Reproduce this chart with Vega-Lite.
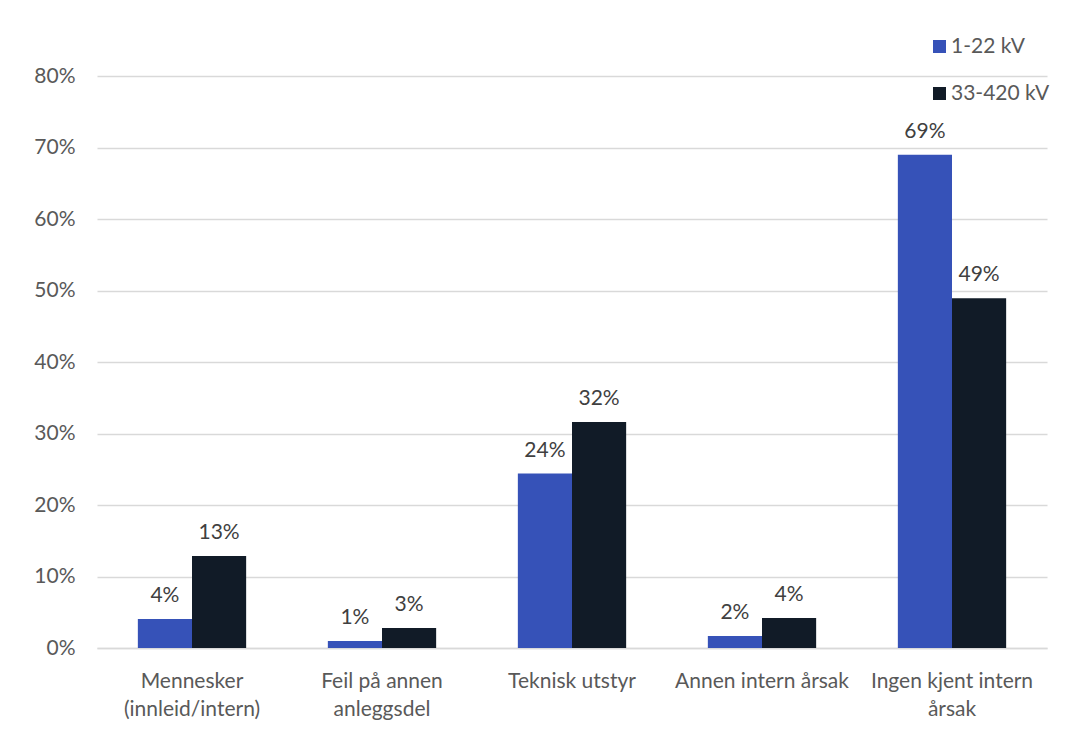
{
  "$schema": "https://vega.github.io/schema/vega-lite/v6.json",
  "width": 950,
  "height": 572,
  "autosize": {"type": "none"},
  "padding": {"left": 97, "top": 76, "right": 18, "bottom": 85},
  "background": "white",
  "config": {
    "font": "Lato",
    "view": {"stroke": null},
    "axis": {"labelFont": "Lato", "labelColor": "#595959", "labelFontSize": 21}
  },
  "data": {
    "values": [
      {"kategori": "Mennesker|(innleid/intern)", "order": 1, "spenning": "1-22 kV", "andel": 0.0406},
      {"kategori": "Mennesker|(innleid/intern)", "order": 1, "spenning": "33-420 kV", "andel": 0.1287},
      {"kategori": "Feil på annen|anleggsdel", "order": 2, "spenning": "1-22 kV", "andel": 0.0098},
      {"kategori": "Feil på annen|anleggsdel", "order": 2, "spenning": "33-420 kV", "andel": 0.028},
      {"kategori": "Teknisk utstyr", "order": 3, "spenning": "1-22 kV", "andel": 0.244},
      {"kategori": "Teknisk utstyr", "order": 3, "spenning": "33-420 kV", "andel": 0.316},
      {"kategori": "Annen intern årsak", "order": 4, "spenning": "1-22 kV", "andel": 0.0168},
      {"kategori": "Annen intern årsak", "order": 4, "spenning": "33-420 kV", "andel": 0.042},
      {"kategori": "Ingen kjent intern|årsak", "order": 5, "spenning": "1-22 kV", "andel": 0.69},
      {"kategori": "Ingen kjent intern|årsak", "order": 5, "spenning": "33-420 kV", "andel": 0.489}
    ]
  },
  "encoding": {
    "x": {
      "field": "kategori",
      "type": "nominal",
      "sort": {"field": "order"},
      "scale": {"paddingInner": 0.43, "paddingOuter": 0.215},
      "axis": {
        "title": null,
        "labelAngle": 0,
        "labelExpr": "split(datum.label, '|')",
        "labelLineHeight": 28,
        "labelPadding": 33,
        "labelBaseline": "middle",
        "ticks": false,
        "domainColor": "#d9d9d9",
        "domainWidth": 1.5
      }
    },
    "xOffset": {"field": "spenning", "type": "nominal", "scale": {"paddingInner": 0, "paddingOuter": 0}},
    "y": {
      "field": "andel",
      "type": "quantitative",
      "scale": {"domain": [0, 0.8], "nice": false},
      "axis": {
        "title": null,
        "format": ".0%",
        "values": [0, 0.1, 0.2, 0.3, 0.4, 0.5, 0.6, 0.7, 0.8],
        "domain": false,
        "ticks": false,
        "labelPadding": 22,
        "gridColor": "#d9d9d9",
        "gridWidth": 1.5
      }
    }
  },
  "layer": [
    {
      "mark": {"type": "bar"},
      "encoding": {
        "color": {
          "field": "spenning",
          "type": "nominal",
          "scale": {"domain": ["1-22 kV", "33-420 kV"], "range": ["#3652B8", "#111B27"]},
          "legend": {
            "title": null,
            "orient": "none",
            "legendX": 832,
            "legendY": -40,
            "padding": 0,
            "symbolType": "square",
            "symbolSize": 169,
            "symbolStrokeWidth": 0,
            "rowPadding": 25,
            "labelFont": "Lato",
            "labelFontSize": 21,
            "labelColor": "#595959",
            "labelOffset": 1
          }
        }
      }
    },
    {
      "mark": {"type": "text", "baseline": "alphabetic", "dy": -17, "fontSize": 21, "color": "#404040", "font": "Lato"},
      "encoding": {
        "text": {"field": "andel", "type": "quantitative", "format": ".0%"}
      }
    }
  ]
}
